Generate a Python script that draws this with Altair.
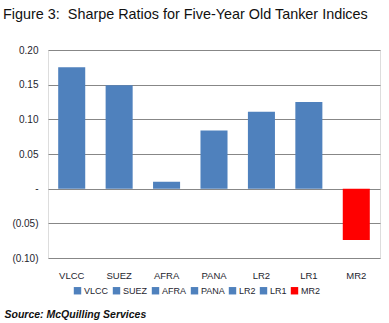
import altair as alt
import pandas as pd

categories = ["VLCC", "SUEZ", "AFRA", "PANA", "LR2", "LR1", "MR2"]
sharpe = [0.175, 0.149, 0.010, 0.084, 0.111, 0.125, -0.074]
colors = ["#4F81BD", "#4F81BD", "#4F81BD", "#4F81BD", "#4F81BD", "#4F81BD", "#FF0000"]
y_ticks = [-0.10, -0.05, 0.0, 0.05, 0.10, 0.15, 0.20]

df = pd.DataFrame({"Index": categories, "Sharpe": sharpe})

text_color = "#1e1e2e"
font = "Liberation Sans"

chart = (
    alt.Chart(df)
    .mark_bar()
    .encode(
        x=alt.X(
            "Index:N",
            sort=categories,
            scale=alt.Scale(paddingInner=0.43, paddingOuter=0.215),
            axis=alt.Axis(
                title="Source: McQuilling Services",
                titleX=-44,
                titleY=59,
                titleAnchor="start",
                titleAlign="left",
                titleBaseline="alphabetic",
                titleFontSize=10.5,
                titleFontStyle="italic",
                titleFontWeight="bold",
                titleColor="#111111",
                titleFont=font,
                labelAngle=0,
                labelPadding=12,
                labelFontSize=9.5,
                labelFont=font,
                labelColor=text_color,
                domain=False,
                ticks=False,
                grid=False,
            ),
        ),
        y=alt.Y(
            "Sharpe:Q",
            scale=alt.Scale(domain=[-0.10, 0.20], nice=False, zero=False),
            axis=alt.Axis(
                title=None,
                values=y_ticks,
                labelExpr="datum.value == 0 ? '-' : (datum.value < 0 ? '(' + format(-datum.value, '.2f') + ')' : format(datum.value, '.2f'))",
                labelFontSize=10,
                labelFont=font,
                labelColor=text_color,
                labelPadding=10,
                domain=False,
                ticks=False,
                gridColor="#878787",
                gridWidth=1,
            ),
        ),
        color=alt.Color(
            "Index:N",
            sort=categories,
            scale=alt.Scale(domain=categories, range=colors),
            legend=alt.Legend(
                title=None,
                orient="none",
                legendX=25,
                legendY=236,
                direction="horizontal",
                columns=7,
                symbolType="square",
                symbolSize=55,
                symbolStrokeWidth=0,
                labelFontSize=9,
                labelFont=font,
                labelColor=text_color,
                labelOffset=2,
                columnPadding=3,
            ),
        ),
    )
    .properties(
        width=332,
        height=208,
        autosize=alt.AutoSizeParams(type="none"),
        padding={"left": 48, "top": 50, "right": 9, "bottom": 65},
        title=alt.TitleParams(
            text="Figure 3:\u00a0 Sharpe Ratios for Five-Year Old Tanker Indices",
            anchor="start",
            frame="group",
            dx=-45,
            offset=12,
            fontSize=14.4,
            fontWeight="normal",
            font=font,
            color="#111111",
            baseline="alphabetic",
        ),
    )
    .configure_view(stroke=None)
    .configure(background="white")
)

chart.save("out.html", embed_options={"renderer": "svg", "actions": False})
